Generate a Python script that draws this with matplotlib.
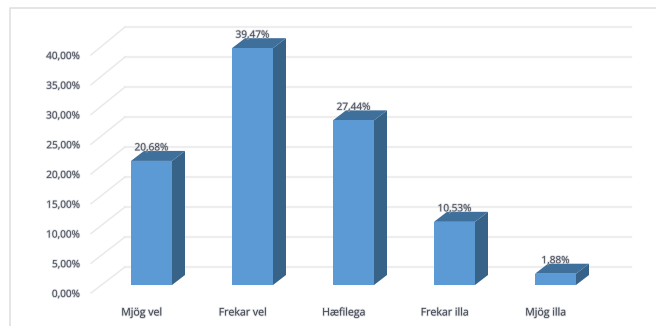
import matplotlib
matplotlib.use('Agg')
import matplotlib.pyplot as plt
import matplotlib.patheffects as pe
from matplotlib.patches import Polygon

categories = ['Mjög vel', 'Frekar vel', 'Hæfilega', 'Frekar illa', 'Mjög illa']
values = [20.68, 39.47, 27.44, 10.53, 1.88]
value_labels = ['20,68%', '39,47%', '27,44%', '10,53%', '1,88%']
ticks = [0, 5, 10, 15, 20, 25, 30, 35, 40]
tick_labels = ['0,00%', '5,00%', '10,00%', '15,00%', '20,00%', '25,00%', '30,00%', '35,00%', '40,00%']

plt.rcParams['font.family'] = ['Open Sans', 'DejaVu Sans']

W, H = 656, 326
# 1 category = 101 px, 1 % = 6 px, category 0 centred at px 151.5, 0% at px 285
px_x = 1 / 101
px_y = 1 / 6
x0 = -151.5 * px_x
y0 = -(H - 285) * px_y

fig = plt.figure(figsize=(W / 100, H / 100), dpi=100)
ax = fig.add_axes([0, 0, 1, 1])
ax.set_xlim(x0, x0 + W * px_x)
ax.set_ylim(y0, y0 + H * px_y)
ax.axis('off')

# soft edge so the small text looks like the blurry original
soft = [pe.withStroke(linewidth=1.2, foreground='#b8bcc4', alpha=0.5)]

# chart frame
frame_x = x0 + 10 * px_x
frame_top = y0 + (H - 8) * px_y
ax.plot([frame_x, frame_x, x0 + W * px_x], [y0, frame_top, frame_top],
        color='#e0e0e0', lw=1.2, zorder=1)

# back wall and side wall gridlines
depth_x = 13 * px_x
depth_y = 10 * px_y
wall_left = x0 + 125 * px_x
wall_right = x0 + 631 * px_x
side_left = x0 + 91 * px_x
for t, lab in zip(ticks, tick_labels):
    back = t + 18 * px_y
    front = t * 29.75 / 30 - 8 * px_y
    ax.plot([wall_left, wall_right], [back, back], color='#eeeeee', lw=1.6, zorder=1)
    ax.plot([side_left, wall_left], [front, back], color='#e8e8e8', lw=1.0, zorder=1)
    ax.text(x0 + 80 * px_x, front - 1.5 * px_y, lab, ha='right', va='center', fontsize=7.2,
            color='#484c58', zorder=5, path_effects=soft)

# bars with fake 3d depth
half = 20.5 * px_x
for i, v in enumerate(values):
    l, r = i - half, i + half
    ax.add_patch(Polygon([(r, 0), (r + depth_x, depth_y), (r + depth_x, v + depth_y), (r, v)],
                         facecolor='#386389', edgecolor='none', zorder=3))
    ax.add_patch(Polygon([(l, v), (l + depth_x, v + depth_y), (r + depth_x, v + depth_y), (r, v)],
                         facecolor='#3f6f9b', edgecolor='none', zorder=3))
    ax.add_patch(Polygon([(l, 0), (r, 0), (r, v), (l, v)],
                         facecolor='#5b9ad5', edgecolor='none', zorder=4))
    ax.text(i, v + 13 * px_y, value_labels[i], ha='center', va='center', fontsize=7.2,
            color='#484c58', zorder=5, path_effects=soft)
    ax.text(i - 10 * px_x, -28 * px_y, categories[i], ha='center', va='center', fontsize=7.6,
            color='#40444f', zorder=5, path_effects=soft)

fig.savefig('out.png', dpi=100)
